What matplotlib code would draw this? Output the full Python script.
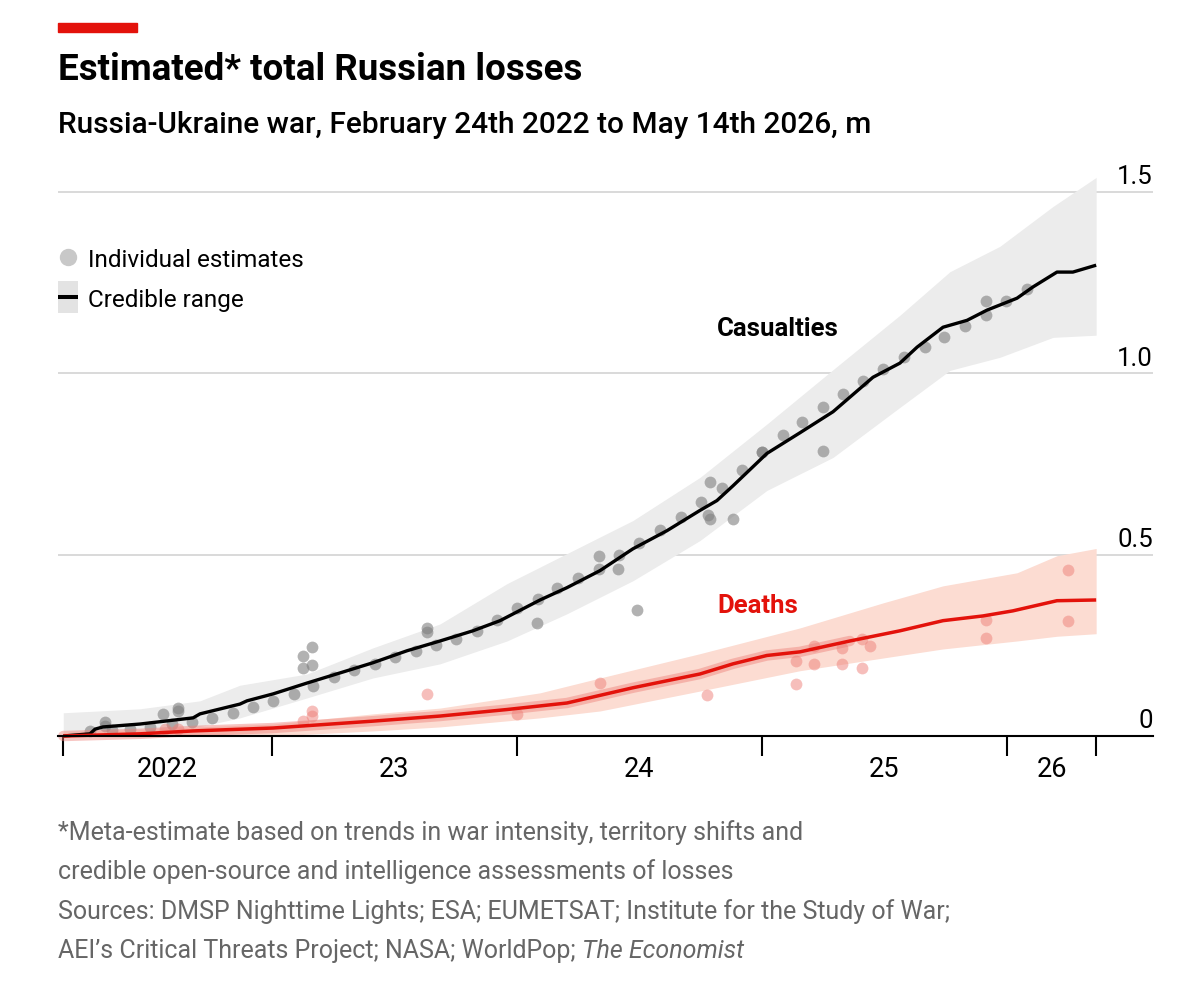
import matplotlib
matplotlib.use("Agg")
import matplotlib.pyplot as plt
from matplotlib import transforms
from matplotlib.lines import Line2D
from matplotlib.patches import Rectangle

W, H = 1203, 990
FONT = ["Roboto", "DejaVu Sans"]
plt.rcParams["font.family"] = FONT

RED = "#e3120b"

# ---------------------------- data (m, fractional year) ----------------------------
cas_year = [2022.148, 2022.257, 2022.278, 2022.310, 2022.461, 2022.678, 2022.706, 2022.869,
            2022.898, 2023.004, 2023.143, 2023.278, 2023.412, 2023.551, 2023.686, 2023.820,
            2023.931, 2024.094, 2024.204, 2024.339, 2024.473, 2024.612, 2024.747, 2024.816,
            2024.882, 2025.020, 2025.155, 2025.290, 2025.453, 2025.563, 2025.633, 2025.739,
            2025.837, 2025.918, 2026.041, 2026.106, 2026.204, 2026.269, 2026.364]
cas_mid = [0.000, 0.006, 0.019, 0.025, 0.033, 0.050, 0.061, 0.088,
           0.097, 0.116, 0.146, 0.174, 0.202, 0.235, 0.262, 0.290,
           0.318, 0.375, 0.409, 0.456, 0.516, 0.566, 0.622, 0.649,
           0.690, 0.779, 0.836, 0.894, 0.989, 1.028, 1.072, 1.127,
           1.146, 1.174, 1.207, 1.238, 1.279, 1.279, 1.298]

cas_band_year = [2022.148, 2022.461, 2022.706, 2022.869, 2023.143, 2023.412, 2023.686, 2023.959,
                 2024.204, 2024.473, 2024.747, 2025.020, 2025.290, 2025.563, 2025.767, 2025.971,
                 2026.188, 2026.364]
cas_hi = [0.064, 0.075, 0.097, 0.140, 0.171, 0.243, 0.309, 0.420,
          0.503, 0.594, 0.713, 0.860, 1.010, 1.160, 1.280, 1.350,
          1.460, 1.540]
cas_lo = [0.000, 0.006, 0.026, 0.050, 0.105, 0.160, 0.199, 0.262,
          0.337, 0.428, 0.539, 0.677, 0.768, 0.906, 1.008, 1.044,
          1.099, 1.105]

cas_est_year = [2022.257, 2022.318, 2022.318, 2022.347, 2022.420, 2022.502, 2022.555, 2022.592,
                2022.616, 2022.616, 2022.673, 2022.755, 2022.841, 2022.922, 2023.004, 2023.090,
                2023.127, 2023.127, 2023.163, 2023.163, 2023.167, 2023.253, 2023.335, 2023.420,
                2023.502, 2023.588, 2023.633, 2023.633, 2023.669, 2023.751, 2023.837, 2023.918,
                2024.000, 2024.082, 2024.086, 2024.163, 2024.249, 2024.335, 2024.335, 2024.416,
                2024.412, 2024.490, 2024.498, 2024.584, 2024.669, 2024.751, 2024.780, 2024.788,
                2024.788, 2024.837, 2024.882, 2024.918, 2025.000, 2025.000, 2025.086, 2025.163,
                2025.249, 2025.249, 2025.331, 2025.412, 2025.494, 2025.580, 2025.665, 2025.743,
                2025.829, 2025.914, 2025.914, 2025.996, 2026.082]
cas_est = [0.014, 0.039, 0.028, 0.017, 0.019, 0.025, 0.061, 0.033,
           0.077, 0.069, 0.039, 0.050, 0.064, 0.080, 0.097, 0.116,
           0.221, 0.188, 0.246, 0.196, 0.138, 0.163, 0.182, 0.199,
           0.218, 0.235, 0.298, 0.287, 0.251, 0.268, 0.290, 0.320,
           0.354, 0.312, 0.378, 0.409, 0.436, 0.461, 0.497, 0.500,
           0.461, 0.348, 0.533, 0.569, 0.605, 0.644, 0.608, 0.597,
           0.699, 0.685, 0.599, 0.732, 0.782, 0.782, 0.831, 0.865,
           0.906, 0.787, 0.942, 0.978, 1.011, 1.044, 1.072, 1.099,
           1.130, 1.199, 1.160, 1.199, 1.232]

death_year = [2022.148, 2022.461, 2022.678, 2023.004, 2023.412, 2023.686, 2023.959, 2024.204,
              2024.473, 2024.747, 2024.882, 2025.020, 2025.155, 2025.359, 2025.563, 2025.739,
              2025.902, 2026.024, 2026.204, 2026.364]
death_mid = [0.000, 0.006, 0.014, 0.022, 0.041, 0.055, 0.073, 0.091,
             0.133, 0.171, 0.199, 0.222, 0.232, 0.262, 0.290, 0.318,
             0.331, 0.345, 0.373, 0.375]

death_band_year = [2022.148, 2023.004, 2023.412, 2023.686, 2024.094, 2024.339, 2024.747, 2025.155,
                   2025.494, 2025.739, 2026.041, 2026.204, 2026.364]
death_hi = [0.010, 0.033, 0.061, 0.077, 0.119, 0.160, 0.227, 0.298,
            0.367, 0.414, 0.450, 0.497, 0.517]
death_lo = [0.000, 0.000, 0.014, 0.025, 0.050, 0.069, 0.124, 0.180,
            0.215, 0.240, 0.262, 0.275, 0.282]

death_est_year = [2022.563, 2022.616, 2023.127, 2023.163, 2023.163, 2023.633, 2024.000, 2024.339,
                  2024.776, 2025.139, 2025.139, 2025.212, 2025.212, 2025.327, 2025.327, 2025.408,
                  2025.408, 2025.441, 2025.914, 2025.914, 2026.249, 2026.249]
death_est = [0.019, 0.019, 0.041, 0.069, 0.055, 0.116, 0.061, 0.146,
             0.113, 0.207, 0.144, 0.249, 0.199, 0.243, 0.199, 0.268,
             0.188, 0.249, 0.320, 0.271, 0.459, 0.318]

# dense daily estimates hug the deaths line up to mid-2025
DENSE_END = 2025.45

x_ticks = [2022.148, 2023, 2024, 2025, 2026, 2026.364]
x_labels = ["2022", "23", "24", "25", "26"]
y_grid = [0.5, 1.0, 1.5]
y_labels = ["0", "0.5", "1.0", "1.5"]


def fx(px):
    return px / W


def fy(py):
    return 1 - py / H


def main():
    fig = plt.figure(figsize=(W / 100, H / 100), dpi=100)
    ax = fig.add_axes([fx(58), fy(745), fx(1153) - fx(58), fy(160) - fy(745)])
    ax.set_xlim(2022.1265, 2026.596)
    ax.set_ylim(-0.0248, 1.588)

    # casualties
    ax.fill_between(cas_band_year, cas_lo, cas_hi, color="#ececec", lw=0, zorder=1)
    ax.scatter(cas_est_year, cas_est, s=72, color="#7f7f7f", alpha=0.6, lw=0, zorder=2)
    ax.plot(cas_year, cas_mid, color="black", lw=2.4, zorder=3, solid_capstyle="butt")

    # deaths
    ax.fill_between(death_band_year, death_lo, death_hi, color="#fcdcd2", lw=0, zorder=1.5)
    ax.scatter(death_est_year, death_est, s=72, color="#ee7f78", alpha=0.5, lw=0, zorder=2)
    dense_x = [x for x in death_year if x <= DENSE_END]
    dense_y = death_mid[:len(dense_x)]
    ax.plot(dense_x, dense_y, color="#ee7f78", lw=7.5, alpha=0.45, zorder=2.5,
            solid_capstyle="round")
    ax.plot(death_year, death_mid, color=RED, lw=2.5, zorder=4, solid_capstyle="butt")

    # axes styling
    for side in ["left", "right", "top"]:
        ax.spines[side].set_visible(False)
    ax.spines["bottom"].set_position(("data", 0))
    ax.spines["bottom"].set_linewidth(1.5)
    ax.spines["bottom"].set_zorder(5)
    ax.set_xticks(x_ticks)
    ax.set_yticks(y_grid)
    ax.tick_params(axis="x", direction="out", length=14.5, width=1.5, labelbottom=False)
    ax.tick_params(axis="y", left=False, labelleft=False)
    ax.grid(axis="y", color="#d9d9d9", lw=1.4)
    ax.set_axisbelow(True)

    # year labels centred between ticks
    for i, lab in enumerate(x_labels):
        mid = (x_ticks[i] + x_ticks[i + 1]) / 2
        ax.text(mid, -0.113, lab, ha="center", va="baseline", fontsize=19.5, clip_on=False)

    # value labels sit on the right, just above each gridline
    ytr = transforms.blended_transform_factory(ax.transAxes, ax.transData)
    for v, lab in zip([0] + y_grid, y_labels):
        ax.text(1.0, v + 0.021, lab, transform=ytr, ha="right", va="baseline", fontsize=18.5)

    ax.text(2024.816, 1.103, "Casualties", fontsize=18.5, fontweight="bold", va="baseline")
    ax.text(2024.816, 0.339, "Deaths", fontsize=18.5, fontweight="bold", color=RED,
            va="baseline")

    # header
    fig.add_artist(Rectangle((fx(58), fy(32)), fx(79), 9 / H, color=RED,
                             transform=fig.transFigure))
    fig.text(fx(58), fy(80), "Estimated* total Russian losses", fontsize=26.5,
             fontweight="bold", va="baseline")
    fig.text(fx(58), fy(133), "Russia-Ukraine war, February 24th 2022 to May 14th 2026, m",
             fontsize=21.5, fontweight="medium", va="baseline")

    # legend
    fig.add_artist(Line2D([fx(68)], [fy(257)], marker="o", markersize=11.5, color="#c8c8c8",
                          lw=0, transform=fig.transFigure))
    fig.text(fx(88), fy(267), "Individual estimates", fontsize=17.5, va="baseline")
    fig.add_artist(Rectangle((fx(58), fy(313)), fx(20), 32 / H, color="#e3e3e3", lw=0,
                             transform=fig.transFigure))
    fig.add_artist(Line2D([fx(58), fx(78)], [fy(297), fy(297)], color="black", lw=2.9,
                          solid_capstyle="butt", transform=fig.transFigure))
    fig.text(fx(88), fy(307), "Credible range", fontsize=17.5, va="baseline")

    # footer
    grey = "#666666"
    notes = ["*Meta-estimate based on trends in war intensity, territory shifts and",
             "credible open-source and intelligence assessments of losses",
             "Sources: DMSP Nighttime Lights; ESA; EUMETSAT; Institute for the Study of War;"]
    for i, line in enumerate(notes):
        fig.text(fx(58), fy(840 + i * 39.5), line, fontsize=18, color=grey, va="baseline")
    last = fig.text(fx(58), fy(958), "AEI\u2019s Critical Threats Project; NASA; WorldPop; ",
                    fontsize=18, color=grey, va="baseline")
    renderer = fig.canvas.get_renderer()
    bb = last.get_window_extent(renderer=renderer)
    fig.text(bb.x1 / W, fy(958), "The Economist", fontsize=18, color=grey,
             style="italic", va="baseline")

    fig.savefig("out.png", dpi=100)


if __name__ == "__main__":
    main()
